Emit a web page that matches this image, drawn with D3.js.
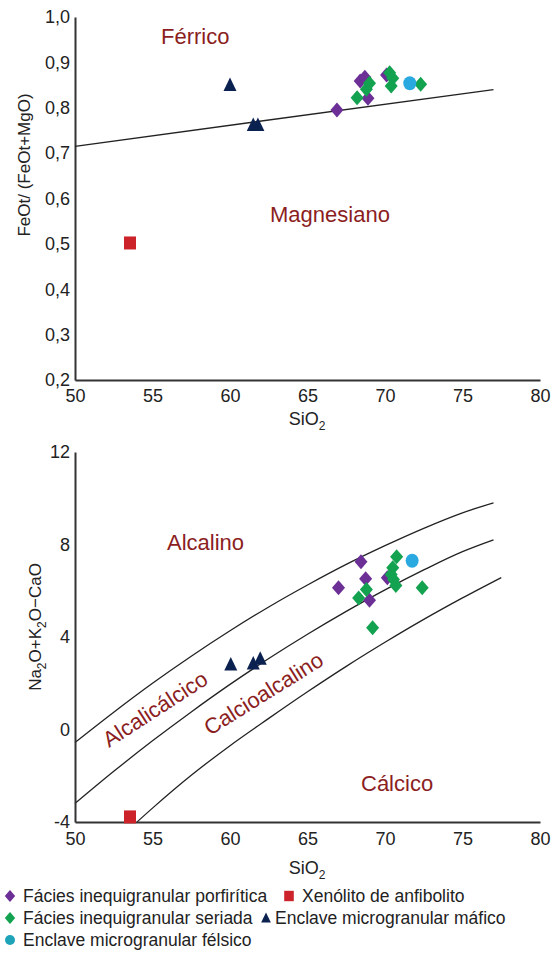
<!DOCTYPE html>
<html>
<head>
<meta charset="utf-8">
<script src="https://cdn.jsdelivr.net/npm/d3@7"></script>
<style>
body { margin: 0; background: #fff; }
svg { display: block; font-family: "Liberation Sans", Arial, sans-serif; }
.tick text { font-family: "Liberation Sans Narrow", "Arial Narrow", "Liberation Sans", sans-serif; font-size: 18px; fill: #222; }
</style>
</head>
<body>
<svg width="553" height="953"></svg>
<script>
// ---------- data: top diagram  [SiO2, FeOt/(FeOt+MgO)] ----------
const topPorfiritica = [[66.9, 0.795], [68.4, 0.859], [68.7, 0.867], [68.9, 0.821], [70.1, 0.872]];
const topSeriada = [[68.2, 0.822], [68.8, 0.841], [69.0, 0.854], [70.3, 0.877], [70.5, 0.865], [70.4, 0.848], [72.3, 0.852]];
const topFelsico = [[71.6, 0.854]];
const topMafico = [[60.0, 0.85], [61.5, 0.762], [61.8, 0.762]];
const topXenolito = [[53.55, 0.502]];
const topBoundary = [[50, 0.715], [77, 0.84]];
const topYTicks = [0.2, 0.3, 0.4, 0.5, 0.6, 0.7, 0.8, 0.9, 1.0];

// ---------- data: bottom diagram  [SiO2, Na2O+K2O-CaO] ----------
const botPorfiritica = [[67.0, 6.13], [68.45, 7.25], [68.75, 6.52], [69.0, 5.59], [70.15, 6.56]];
const botSeriada = [[68.3, 5.69], [68.8, 6.05], [69.2, 4.40], [70.75, 7.47], [70.5, 6.99], [70.4, 6.70], [70.55, 6.49], [70.7, 6.23], [72.4, 6.13]];
const botFelsico = [[71.75, 7.3]];
const botMafico = [[60.05, 2.81], [61.5, 2.85], [61.95, 3.06]];
const botXenolito = [[53.55, -3.78]];
// boundary curves
const alcalinoLine = [[50, -0.56], [52.5, 0.75], [55, 2.0], [57.5, 3.17], [60, 4.27], [62.5, 5.3], [65, 6.25], [67.5, 7.14], [70, 7.95], [72.5, 8.7], [75, 9.37], [77, 9.8]];
const alcalicalcicoLine = [[50, -3.2], [52.5, -1.81], [55, -0.49], [57.5, 0.76], [60, 1.95], [62.5, 3.07], [65, 4.12], [67.5, 5.11], [70, 6.04], [72.5, 6.9], [75, 7.69], [77, 8.2]];
const calcioalcalinoLine = [[54, -4.0], [55, -3.4], [57.5, -1.98], [60, -0.7], [62.5, 0.48], [65, 1.63], [67.5, 2.73], [70, 3.77], [72.5, 4.76], [75, 5.69], [77.5, 6.57]];
const botYTicks = [-4, 0, 4, 8, 12];

const xTicks = [50, 55, 60, 65, 70, 75, 80];

// colours
const cPorf = '#6b2f96';
const cSer = '#13a24f';
const cFel = '#2aa9e0';
const cMaf = '#0b2150';
const cXen = '#cc2229';
const cRegion = '#8b1e1e';

const svg = d3.select('svg');

// shapes
const diamond = 'M0,-7.5L6.5,0L0,7.5L-6.5,0Z';
const triangle = 'M0,-7.5L6.5,6L-6.5,6Z';
const square = 'M-6,-6.5L6,-6.5L6,6.5L-6,6.5Z';

const drawPoints = (g, data, x, y, shape, color) => {
    if (shape === 'circle') {
        g.selectAll(null).data(data).enter()
            .append('ellipse')
            .attr('cx', d => x(d[0]))
            .attr('cy', d => y(d[1]))
            .attr('rx', 6.5).attr('ry', 7)
            .attr('fill', color);
    } else {
        g.selectAll(null).data(data).enter()
            .append('path')
            .attr('d', shape)
            .attr('transform', d => `translate(${x(d[0])},${y(d[1])})`)
            .attr('fill', color);
    }
}

const styleAxis = (g) => {
    g.select('.domain').attr('stroke', '#333').attr('stroke-width', 2);
}

// x scale shared by both diagrams
const x = d3.scaleLinear().domain([50, 80]).range([75, 540]);

// ====================== TOP DIAGRAM ======================
const yTop = d3.scaleLinear().domain([0.2, 1.0]).range([380, 17]);
const topGraph = svg.append('g');

topGraph.append('g')
    .attr('transform', 'translate(0,380)')
    .call(d3.axisBottom(x).tickValues(xTicks).tickSize(0).tickPadding(9).tickSizeOuter(0))
    .call(styleAxis);

topGraph.append('g')
    .attr('transform', 'translate(75,0)')
    .call(d3.axisLeft(yTop).tickValues(topYTicks).tickSize(0).tickPadding(5).tickSizeOuter(0)
        .tickFormat(d => d3.format('.1f')(d).replace('.', ',')))
    .call(styleAxis);

topGraph.append('path')
    .datum(topBoundary)
    .attr('d', d3.line().x(d => x(d[0])).y(d => yTop(d[1])))
    .attr('fill', 'none')
    .attr('stroke', '#222')
    .attr('stroke-width', 1.4);

topGraph.append('text').attr('x', 161).attr('y', 44).attr('font-size', 22).attr('fill', cRegion).text('Férrico');
topGraph.append('text').attr('x', 270).attr('y', 222).attr('font-size', 22).attr('fill', cRegion).text('Magnesiano');

drawPoints(topGraph, topXenolito, x, yTop, square, cXen);
drawPoints(topGraph, topMafico, x, yTop, triangle, cMaf);
drawPoints(topGraph, topPorfiritica, x, yTop, diamond, cPorf);
drawPoints(topGraph, topSeriada, x, yTop, diamond, cSer);
drawPoints(topGraph, topFelsico, x, yTop, 'circle', cFel);

// axis titles
const sio2Title = (g, yPos) => {
    const t = g.append('text').attr('x', 307).attr('y', yPos).attr('text-anchor', 'middle')
        .attr('font-size', 18).attr('fill', '#222');
    t.append('tspan').text('SiO');
    t.append('tspan').attr('font-size', 12).attr('dy', 5).text('2');
}
sio2Title(topGraph, 425);

topGraph.append('text')
    .attr('transform', 'translate(30,165) rotate(-90)')
    .attr('text-anchor', 'middle')
    .attr('font-size', 17)
    .attr('fill', '#222')
    .text('FeOt/ (FeOt+MgO)');

// ====================== BOTTOM DIAGRAM ======================
const yBot = d3.scaleLinear().domain([-4, 12]).range([822, 452]);
const botGraph = svg.append('g');

const curve = d3.line().x(d => x(d[0])).y(d => yBot(d[1])).curve(d3.curveMonotoneX);
[alcalinoLine, alcalicalcicoLine, calcioalcalinoLine].forEach(line => {
    botGraph.append('path')
        .datum(line)
        .attr('d', curve)
        .attr('fill', 'none')
        .attr('stroke', '#222')
        .attr('stroke-width', 1.3);
});

botGraph.append('g')
    .attr('transform', 'translate(0,822)')
    .call(d3.axisBottom(x).tickValues(xTicks).tickSize(0).tickPadding(10).tickSizeOuter(0))
    .call(styleAxis);

botGraph.append('g')
    .attr('transform', 'translate(75,0)')
    .call(d3.axisLeft(yBot).tickValues(botYTicks).tickSize(0).tickPadding(5).tickSizeOuter(0)
        .tickFormat(d => String(d)))
    .call(styleAxis);

botGraph.append('text').attr('x', 167).attr('y', 550).attr('font-size', 22).attr('fill', cRegion).text('Alcalino');
botGraph.append('text').attr('x', 361).attr('y', 791).attr('font-size', 22).attr('fill', cRegion).text('Cálcico');
botGraph.append('text').attr('transform', 'translate(109,748) rotate(-33)').attr('font-size', 22).attr('fill', cRegion).text('Alcalicálcico');
botGraph.append('text').attr('transform', 'translate(210,736) rotate(-32)').attr('font-size', 22).attr('fill', cRegion).text('Calcioalcalino');

drawPoints(botGraph, botXenolito, x, yBot, square, cXen);
drawPoints(botGraph, botMafico, x, yBot, triangle, cMaf);
drawPoints(botGraph, botPorfiritica, x, yBot, diamond, cPorf);
drawPoints(botGraph, botSeriada, x, yBot, diamond, cSer);
drawPoints(botGraph, botFelsico, x, yBot, 'circle', cFel);

sio2Title(botGraph, 874);

const yl = botGraph.append('text')
    .attr('transform', 'translate(41,627) rotate(-90)')
    .attr('text-anchor', 'middle')
    .attr('font-size', 17)
    .attr('fill', '#222');
yl.append('tspan').text('Na');
yl.append('tspan').attr('font-size', 12).attr('dy', 5).text('2');
yl.append('tspan').attr('dy', -5).text('O+K');
yl.append('tspan').attr('font-size', 12).attr('dy', 5).text('2');
yl.append('tspan').attr('dy', -5).text('O\u2212CaO');

// ====================== LEGEND ======================
const legendItems = [
    { label: 'Fácies inequigranular porfirítica', shape: diamond, color: cPorf, x: 10, y: 902 },
    { label: 'Xenólito de anfibolito', shape: square, color: cXen, x: 289, y: 902 },
    { label: 'Fácies inequigranular seriada', shape: diamond, color: cSer, x: 10, y: 924 },
    { label: 'Enclave microgranular máfico', shape: triangle, color: cMaf, x: 266, y: 924 },
    { label: 'Enclave microgranular félsico', shape: 'circle', color: '#1fa3b8', x: 10, y: 946 }
];
const legend = svg.append('g');
legendItems.forEach(item => {
    const sc = item.shape === triangle ? 0.75 : 0.8;
    if (item.shape === 'circle') {
        legend.append('circle').attr('cx', item.x).attr('cy', item.y - 6).attr('r', 5).attr('fill', item.color);
    } else {
        legend.append('path').attr('d', item.shape)
            .attr('transform', `translate(${item.x},${item.y - 6}) scale(${sc})`)
            .attr('fill', item.color);
    }
    legend.append('text').attr('x', item.x + (item.shape === triangle ? 9 : 13)).attr('y', item.y)
        .attr('font-size', 17.5).attr('fill', '#222').text(item.label);
});
</script>
</body>
</html>
